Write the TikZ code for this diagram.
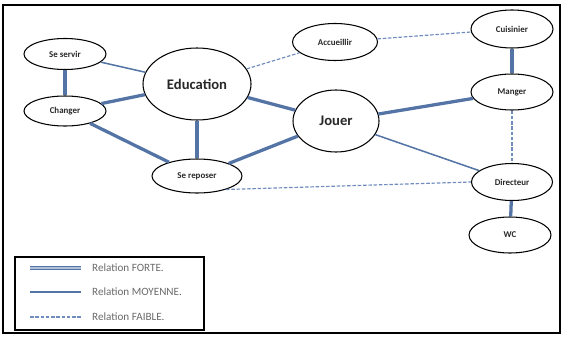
\documentclass[tikz,border=0pt]{standalone}
\usepackage{fontspec}
\setmainfont{Carlito}
\usetikzlibrary{shapes.geometric}
\definecolor{lien}{RGB}{84,116,166}
\definecolor{lienclair}{RGB}{112,140,190}
\definecolor{texte}{RGB}{40,40,40}
\begin{document}
\begin{tikzpicture}[x=0.03cm,y=-0.03cm]
		\tikzstyle{etat}=[draw,ellipse,line width=0.9pt,inner sep=0pt,fill=white,text=texte,font=\fontsize{7.6}{9}\selectfont\bfseries]
		\tikzstyle{taille}=[minimum width=#1*0.8536pt]
		\tikzstyle{haut}=[minimum height=#1*0.8536pt]
		\tikzstyle{grand}=[font=\fontsize{12.5}{14}\selectfont\bfseries]
		\tikzstyle{forte}=[lien,line width=2.8pt]
		\tikzstyle{moyenne}=[lien,line width=1.3pt]
		\tikzstyle{faible}=[lienclair,line width=1pt,dash pattern=on 3pt off 1.5pt]
		\tikzstyle{legende}=[anchor=west,inner sep=0pt,text=texte!70,font=\fontsize{9.5}{11}\selectfont]
		\useasboundingbox (0,0) rectangle (572,338);
		\draw [line width=1.8pt] (3,5) rectangle (560,333);
		% les activites
		\node [etat,taille=82,haut=31] (servir) at (65,54) {Se servir};
		\node [etat,taille=82,haut=30] (changer) at (65,111) {Changer};
		\node [etat,grand,taille=108,haut=72] (education) at (197,84) {Education};
		\node [etat,taille=90,haut=34] (reposer) at (197,176) {Se reposer};
		\node [etat,taille=85,haut=37] (accueillir) at (335,42) {Accueillir};
		\node [etat,grand,taille=86,haut=62] (jouer) at (336,121) {Jouer};
		\node [etat,taille=82,haut=38] (cuisinier) at (512,29) {Cuisinier};
		\node [etat,taille=82,haut=36] (manger) at (512,92) {Manger};
		\node [etat,taille=81,haut=37] (directeur) at (512,182) {Directeur};
		\node [etat,taille=82,haut=36] (wc) at (510,235) {WC};
		% relations fortes
		\draw [forte] (servir) -- (changer);
		\draw [forte] (changer) -- (education);
		\draw [forte] (changer) -- (reposer);
		\draw [forte] (education) -- (reposer);
		\draw [forte] (education) -- (jouer);
		\draw [forte] (reposer) -- (jouer);
		\draw [forte] (jouer) -- (manger);
		\draw [forte] (cuisinier) -- (manger);
		\draw [forte] (directeur) -- (wc);
		% relations moyennes
		\draw [moyenne] (servir) -- (education);
		\draw [moyenne] (jouer) -- (directeur);
		% relations faibles
		\draw [faible] (education) -- (accueillir);
		\draw [faible] (accueillir) -- (cuisinier);
		\draw [faible] (manger) -- (directeur);
		\draw [faible] (reposer.-25) -- (directeur.west);
		% legende
		\draw [line width=1pt] (15,257) rectangle (204,330);
		\coordinate (f1) at (30,268);
		\coordinate (f2) at (81,268);
		\coordinate (m1) at (30,292);
		\coordinate (m2) at (81,292);
		\coordinate (a1) at (30,317);
		\coordinate (a2) at (81,317);
		\draw [draw=lien,double=lien!45,double distance=1.3pt,line width=0.9pt] (f1) -- (f2);
		\draw [moyenne] (m1) -- (m2);
		\draw [faible] (a1) -- (a2);
		\node [legende] (lforte) at (92,268) {Relation FORTE.};
		\node [legende] (lmoyenne) at (92,292) {Relation MOYENNE.};
		\node [legende] (lfaible) at (92,317) {Relation FAIBLE.};
	\end{tikzpicture}
\end{document}
